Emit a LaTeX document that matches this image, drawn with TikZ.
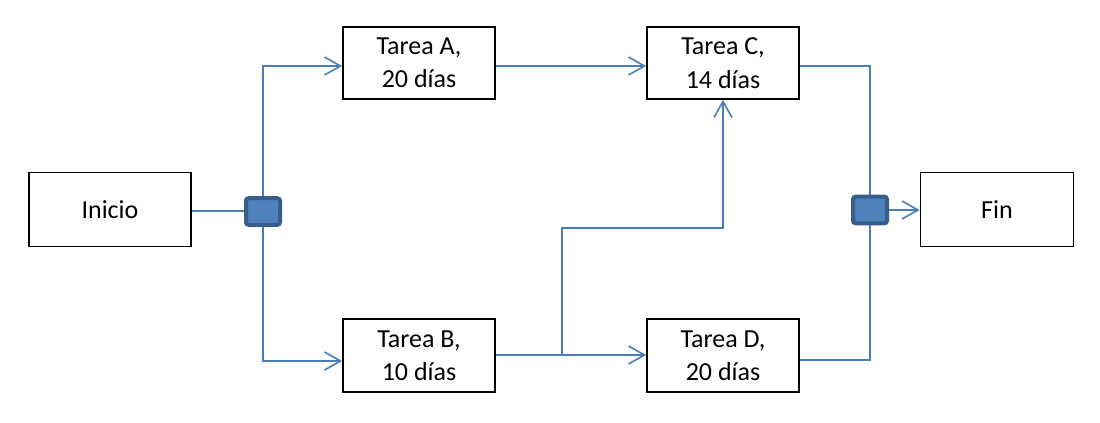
\documentclass[tikz,border=0pt]{standalone}
\usepackage{fontspec}
\setmainfont{Carlito}
\usetikzlibrary{arrows.meta,calc}
\definecolor{linkblue}{HTML}{4A7EBB}
\definecolor{sqfill}{HTML}{4F81BD}
\definecolor{sqdraw}{HTML}{385D8A}
\begin{document}
\begin{tikzpicture}[x=0.75pt,y=-0.75pt,
  taskbox/.style={draw=black, line width=1.3pt, fill=white, inner sep=0pt,
    align=center, font=\fontsize{19.5pt}{25pt}\selectfont},
  junction/.style={draw=sqdraw, fill=sqfill, line width=3pt, rounded corners=2pt,
    minimum width=25.5pt, minimum height=20pt, inner sep=0pt},
  conn/.style={draw=linkblue, line width=1.2pt},
  arr/.style={-{Straight Barb[length=12pt,width=13.5pt]}}]
\path[use as bounding box] (0,0) rectangle (1100,422);
% boxes
\node[taskbox, minimum width=121.5pt, minimum height=55.5pt] (ini) at (110,209.5) {Inicio};
\node[taskbox, minimum width=114pt, minimum height=54pt] (tA) at (419,63) {Tarea A,\\20 días};
\node[taskbox, minimum width=114pt, minimum height=54.5pt] (tB) at (419,355.5) {Tarea B,\\10 días};
\node[taskbox, minimum width=114pt, minimum height=54pt] (tC) at (723,63) {Tarea C,\\14 días};
\node[taskbox, minimum width=114pt, minimum height=54.5pt] (tD) at (723,355.5) {Tarea D,\\20 días};
\node[taskbox, minimum width=114.75pt, minimum height=55.5pt] (fin) at (997,209.5) {Fin};
% connectors
\draw[conn] ($(ini.east)+(0,1.5)$) -- (247,211);
\draw[conn,arr] (263,197) |- ($(tA.west)+(0,3)$);
\draw[conn,arr] (263,226) |- ($(tB.west)+(0,5.5)$);
\draw[conn,arr] ($(tA.east)+(0,3)$) -- ($(tC.west)+(0,3)$);
\draw[conn,arr] ($(tB.east)+(0,-0.5)$) -- ($(tD.west)+(0,-0.5)$);
\coordinate (br) at ($(tB.east)!0.44!(tD.west)+(0,-0.5)$);
\coordinate (mid) at (0,228);
\draw[conn,arr] (br) -- (br |- mid) -| (tC.south);
\draw[conn] ($(tC.east)+(0,3)$) -| (870,196);
\draw[conn] ($(tD.east)+(0,4.5)$) -| (870,224);
% junctions
\node[junction] (sqL) at (263,211.5) {};
\node[junction] (sqR) at (870,210) {};
\draw[conn,arr] (sqR.east) -- (fin.west |- sqR.east);
\end{tikzpicture}
\end{document}
